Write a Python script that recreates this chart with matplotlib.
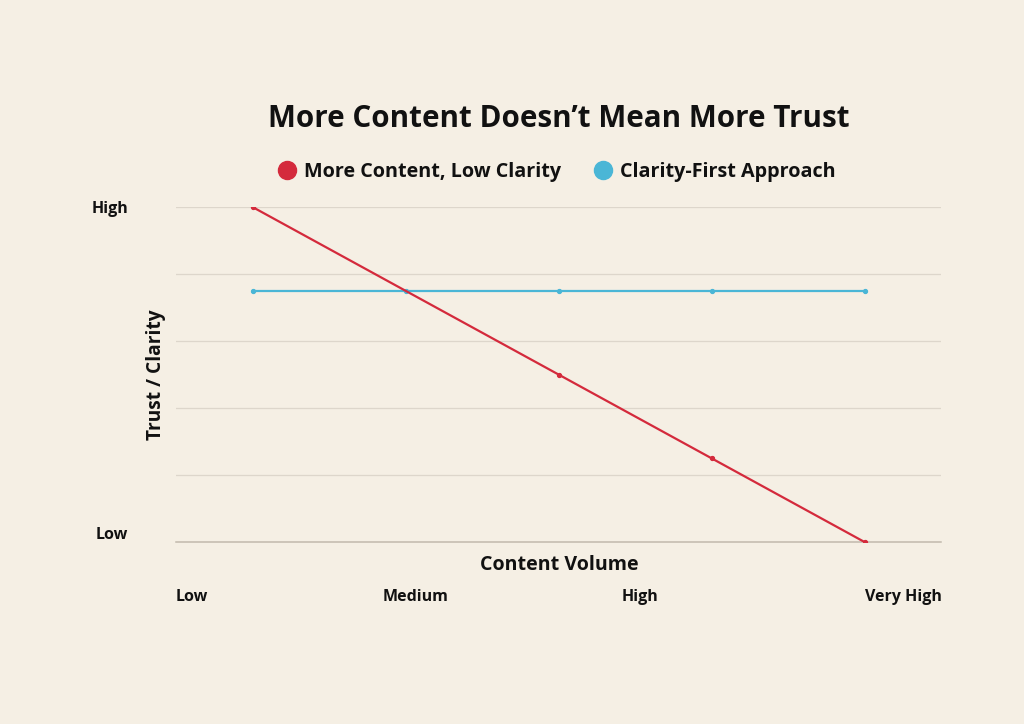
import matplotlib
matplotlib.use("Agg")
import matplotlib.pyplot as plt
from matplotlib.lines import Line2D

categories = ["Low", "Medium", "High", "Very High", "Max"]
x_tick_labels = ["Low", "Medium", "High", "Very High"]
y_tick_labels = ["Low", "High"]
red_values = [5, 3.75, 2.5, 1.25, 0]
blue_values = [3.75, 3.75, 3.75, 3.75, 3.75]
red_label = "More Content, Low Clarity"
blue_label = "Clarity-First Approach"

BG = "#F5EFE4"
RED = "#D42A3C"
BLUE = "#4AB6D6"
FONT = ["Open Sans", "DejaVu Sans"]

plt.rcParams['font.family'] = FONT
fig = plt.figure(figsize=(10.24, 7.24), dpi=100, facecolor=BG)
ax = fig.add_axes([176/1024, 1-542/724, 765/1024, 335/724])
ax.set_facecolor(BG)

xs = list(range(len(red_values)))
ax.plot(xs, red_values, color=RED, lw=1.6, marker="o", markersize=2.8,
        markevery=[0, 2, 3, 4], zorder=3)
ax.plot(xs, blue_values, color=BLUE, lw=1.6, marker="o", markersize=2.8, zorder=2.5)

ax.set_xlim(-0.5, len(xs) - 0.5)
ax.set_ylim(0, 5)
ax.set_yticks([1, 2, 3, 4, 5])
ax.grid(axis="y", color="#DDD6CB", lw=0.9)
ax.axhline(0, color="#C2B9AD", lw=1.1, zorder=2, clip_on=False)
for s in ax.spines.values():
    s.set_visible(False)
ax.tick_params(left=False, bottom=False, labelleft=False, labelbottom=False)
ax.set_xticks([])

tk = dict(fontsize=11.5, fontweight="bold", color="#111111")
# y labels
fig.text(128/1024, 1-209/724, y_tick_labels[1], ha="right", va="center", **tk)
fig.text(128/1024, 1-535/724, y_tick_labels[0], ha="right", va="center", **tk)
# x labels
xpos = [192, 416, 640, 903]
for lab, px in zip(x_tick_labels, xpos):
    fig.text(px/1024, 1-597/724, lab, ha="center", va="center", **tk)

fig.text(559/1024, 1-565/724, "Content Volume", ha="center", va="center",
         fontsize=14.1, fontweight="bold", color="#111111")
fig.text(156/1024, 1-375/724, "Trust / Clarity", ha="center", va="center",
         rotation=90, fontsize=13.8, fontweight="bold", color="#111111")
fig.text(559/1024, 1-119/724, "More Content Doesn\u2019t Mean More Trust",
         ha="center", va="center", fontsize=21.3, fontweight="bold", color="#111111")

handles = [Line2D([], [], ls="none", marker="o", markersize=13, color=RED),
           Line2D([], [], ls="none", marker="o", markersize=13, color=BLUE)]
leg = fig.legend(handles, [red_label, blue_label], loc="center",
                 bbox_to_anchor=(556/1024, 1-172/724), ncol=2, frameon=False,
                 prop={"family": FONT, "weight": "bold", "size": 14.2},
                 handletextpad=0.3, columnspacing=1.6, handlelength=1.1)
for t in leg.get_texts():
    t.set_color("#111111")

fig.savefig("out.png", dpi=100, facecolor=BG)
